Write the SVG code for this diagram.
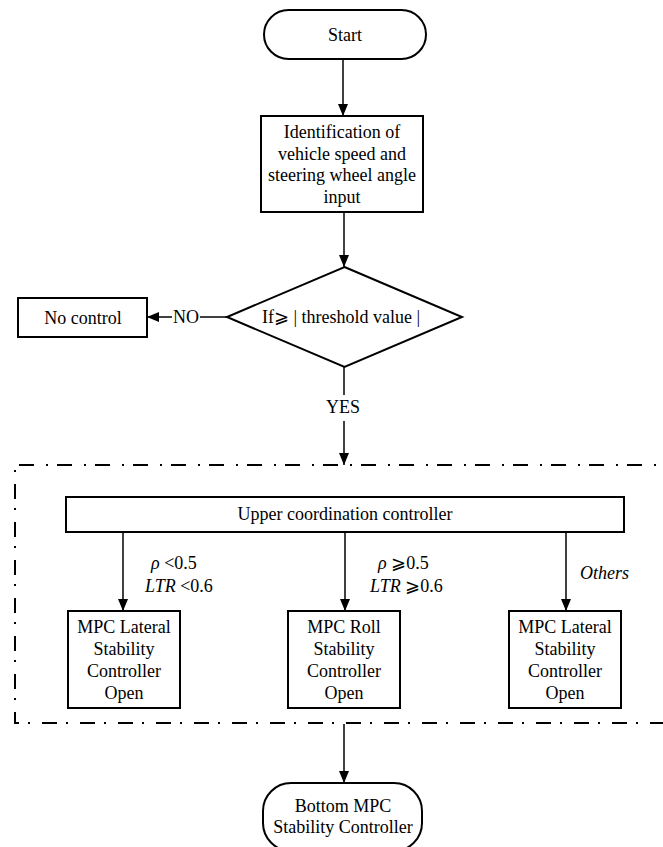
<svg xmlns="http://www.w3.org/2000/svg" width="663" height="847" viewBox="0 0 663 847">
<style>
.box{fill:#fff;stroke:#000;stroke-width:2}
.ln{fill:none;stroke:#000;stroke-width:1.5}
.dash{fill:none;stroke:#000;stroke-width:2;stroke-dasharray:15 9 2 12}
text{font-family:"Liberation Serif","Times New Roman","DejaVu Serif",serif;font-size:18px;fill:#000}
.c{text-anchor:middle}
.i{font-style:italic}
</style>
<defs>
<marker id="ah" viewBox="0 0 12 10" refX="12" refY="5" markerWidth="12" markerHeight="10" markerUnits="userSpaceOnUse" orient="auto">
<path d="M0,0 L12,5 L0,10 Z" fill="#000"/>
</marker>
</defs>
<g id="connectors">
<line class="ln" x1="343" y1="59" x2="343" y2="116" marker-end="url(#ah)"/>
<line class="ln" x1="344" y1="212" x2="344" y2="267" marker-end="url(#ah)"/>
<line class="ln" x1="227" y1="317" x2="200" y2="317"/>
<line class="ln" x1="172" y1="317" x2="147" y2="317" marker-end="url(#ah)"/>
<text x="186" y="323" class="c">NO</text>
<line class="ln" x1="344" y1="367" x2="344" y2="395"/>
<text x="343" y="413" class="c">YES</text>
<line class="ln" x1="344" y1="421" x2="344" y2="465" marker-end="url(#ah)"/>
<line class="ln" x1="123" y1="532" x2="123" y2="611" marker-end="url(#ah)"/>
<line class="ln" x1="345" y1="532" x2="345" y2="611" marker-end="url(#ah)"/>
<line class="ln" x1="566" y1="532" x2="566" y2="611" marker-end="url(#ah)"/>
<text x="151" y="569"><tspan class="i">ρ</tspan> &lt;0.5</text>
<text x="145" y="592"><tspan class="i">LTR</tspan> &lt;0.6</text>
<text x="378" y="569"><tspan class="i">ρ</tspan> ⩾0.5</text>
<text x="370" y="592"><tspan class="i">LTR</tspan> ⩾0.6</text>
<text x="580" y="579" class="i">Others</text>
<line class="ln" x1="344" y1="724" x2="344" y2="783" marker-end="url(#ah)"/>
</g>
<g id="group-frame">
<path class="dash" d="M680,465 H15 V723 H680"/>
</g>
<g id="start">
<rect class="box" x="264" y="10" width="162" height="49" rx="24.5"/>
<text x="345" y="41" class="c">Start</text>
</g>
<g id="identify">
<rect class="box" x="261" y="116" width="162" height="96"/>
<text class="c" x="342"><tspan x="342" y="138">Identification of</tspan><tspan x="342" y="160">vehicle speed and</tspan><tspan x="342" y="181">steering wheel angle</tspan><tspan x="342" y="203">input</tspan></text>
</g>
<g id="decision">
<polygon class="box" points="344.5,267 462,317 344.5,367 227,317"/>
<text x="341" y="323" class="c">If⩾ | threshold value | </text>
</g>
<g id="no-control">
<rect class="box" x="18" y="298" width="129" height="39"/>
<text x="83" y="324" class="c">No control</text>
</g>
<g id="upper">
<rect class="box" x="66" y="497" width="558" height="35"/>
<text x="345" y="520" class="c">Upper coordination controller</text>
</g>
<g id="lateral-1">
<rect class="box" x="68" y="611" width="112" height="97"/>
<text class="c"><tspan x="124" y="633">MPC Lateral</tspan><tspan x="124" y="655">Stability</tspan><tspan x="124" y="677">Controller</tspan><tspan x="124" y="699">Open</tspan></text>
</g>
<g id="roll">
<rect class="box" x="288" y="611" width="112" height="97"/>
<text class="c"><tspan x="344" y="633">MPC Roll</tspan><tspan x="344" y="655">Stability</tspan><tspan x="344" y="677">Controller</tspan><tspan x="344" y="699">Open</tspan></text>
</g>
<g id="lateral-2">
<rect class="box" x="509" y="611" width="112" height="97"/>
<text class="c"><tspan x="565" y="633">MPC Lateral</tspan><tspan x="565" y="655">Stability</tspan><tspan x="565" y="677">Controller</tspan><tspan x="565" y="699">Open</tspan></text>
</g>
<g id="bottom">
<rect class="box" x="263" y="783" width="159" height="68" rx="28"/>
<text class="c"><tspan x="343" y="812">Bottom MPC</tspan><tspan x="343" y="833">Stability Controller</tspan></text>
</g>
</svg>
